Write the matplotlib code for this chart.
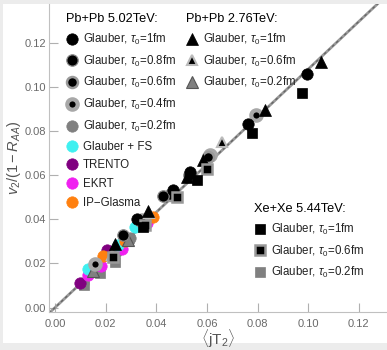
import matplotlib
matplotlib.use("Agg")
import matplotlib.pyplot as plt
from matplotlib.lines import Line2D
from matplotlib.patches import Rectangle
import numpy as np

plt.rcParams['font.family'] = ['Liberation Sans', 'DejaVu Sans']
plt.rcParams['mathtext.fontset'] = 'custom'
plt.rcParams['mathtext.rm'] = 'Liberation Sans'
plt.rcParams['mathtext.it'] = 'Liberation Sans:italic'
plt.rcParams['mathtext.bf'] = 'Liberation Sans:bold'

# ---------------- data ----------------
# Pb+Pb 5.02 TeV, Glauber with various tau0 (circles)
pb502_t10_x = [0.0322, 0.0467, 0.0533, 0.0762, 0.0994]
pb502_t10_y = [0.0400, 0.0532, 0.0615, 0.0831, 0.1057]
pb502_t08_x = [0.0270, 0.0428, 0.0530]
pb502_t08_y = [0.0328, 0.0506, 0.0600]
pb502_t06_x = [0.0338, 0.0454, 0.0605]
pb502_t06_y = [0.0392, 0.0510, 0.0680]
pb502_t04_x = [0.0158, 0.0345, 0.0612, 0.0795]
pb502_t04_y = [0.0196, 0.0395, 0.0690, 0.0872]
pb502_t02_x = [0.0110, 0.0170, 0.0240, 0.0295, 0.0334]
pb502_t02_y = [0.0112, 0.0180, 0.0250, 0.0315, 0.0387]
fs_x = [0.0132, 0.0250, 0.0316]
fs_y = [0.0174, 0.0283, 0.0366]
trento_x = [0.0099, 0.0165, 0.0207, 0.0340]
trento_y = [0.0110, 0.0193, 0.0260, 0.0375]
ekrt_x = [0.0129, 0.0180, 0.0263, 0.0362]
ekrt_y = [0.0147, 0.0190, 0.0265, 0.0381]
ipg_x = [0.0188, 0.0276, 0.0386]
ipg_y = [0.0235, 0.0300, 0.0411]

# Pb+Pb 2.76 TeV (triangles)
pb276_t10_x = [0.0237, 0.0368, 0.0520, 0.0584, 0.0829, 0.1050]
pb276_t10_y = [0.0290, 0.0437, 0.0592, 0.0668, 0.0894, 0.1113]
pb276_t06_x = [0.0224, 0.0372, 0.0658]
pb276_t06_y = [0.0238, 0.0430, 0.0751]
pb276_t02_x = [0.0150, 0.0290]
pb276_t02_y = [0.0165, 0.0305]

# Xe+Xe 5.44 TeV (squares)
xe_t10_x = [0.0349, 0.0560, 0.0777, 0.0974]
xe_t10_y = [0.0366, 0.0580, 0.0789, 0.0973]
xe_t06_x = [0.0230, 0.0355, 0.0480, 0.0599]
xe_t06_y = [0.0230, 0.0372, 0.0500, 0.0626]
xe_t02_x = [0.0116, 0.0178, 0.0235, 0.0292]
xe_t02_y = [0.0102, 0.0156, 0.0207, 0.0313]

fit_slope = 1.08

x_ticks = [0.00, 0.02, 0.04, 0.06, 0.08, 0.10, 0.12]
y_ticks = [0.00, 0.02, 0.04, 0.06, 0.08, 0.10, 0.12]

# ---------------- styles ----------------
GRAY = '#808080'
st = {
    'c10': dict(marker='o', mfc='black', mec='black', mew=0.5, ms=8.2),
    'c08': dict(marker='o', mfc='black', mec='#8a8a8a', mew=0.9, ms=8.2),
    'c06': dict(marker='o', mfc='black', mec='#9a9a9a', mew=1.8, ms=7.9),
    'c04': dict(marker='o', mfc='black', mec='#a8a8a8', mew=3.0, ms=7.5),
    'c02': dict(marker='o', mfc=GRAY, mec=GRAY, mew=0.5, ms=8.2),
    'fs': dict(marker='o', mfc='#3ff0f0', mec='#3ff0f0', mew=0.5, ms=8.2),
    'tr': dict(marker='o', mfc='#800080', mec='#800080', mew=0.5, ms=8.2),
    'ek': dict(marker='o', mfc='#f020f0', mec='#f020f0', mew=0.5, ms=8.2),
    'ip': dict(marker='o', mfc='#ff8010', mec='#ff8010', mew=0.5, ms=8.2),
    't10': dict(marker='^', mfc='black', mec='black', mew=0.5, ms=8.4),
    't06': dict(marker='^', mfc='black', mec='#bbbbbb', mew=1.5, ms=7.9),
    't02': dict(marker='^', mfc=GRAY, mec='#555555', mew=0.8, ms=8.4),
    's10': dict(marker='s', mfc='black', mec='black', mew=0.5, ms=7.2),
    's06': dict(marker='s', mfc='black', mec='#999999', mew=1.8, ms=6.9),
    's02': dict(marker='s', mfc=GRAY, mec=GRAY, mew=0.5, ms=7.2),
}

W, H = 387, 350
fig = plt.figure(figsize=(W / 100, H / 100), dpi=100, facecolor='#ececec')
fig.patches.append(Rectangle((3 / W, 7 / H), 1 - 3 / W, 1 - 4 / H - 7 / H,
                             transform=fig.transFigure, facecolor='white',
                             edgecolor='none', zorder=-10))
ax = fig.add_axes([49 / W, 38 / H, 1 - 49 / W, (312 - 4) / H])
ax.set_facecolor('white')

ax.set_xlim(-0.00237, 0.1311)
ax.set_ylim(-0.0020, 0.1375)

xx = np.array(ax.get_xlim())
ax.plot(xx, fit_slope * xx, color='#999999', lw=2.0, zorder=2, solid_capstyle='butt')
ax.plot(xx, fit_slope * xx, color='#666666', lw=1.0, ls=(0, (2, 2)), zorder=2)

def pts(x, y, key):
    ax.plot(x, y, ls='none', zorder=3, **st[key])

pts(pb502_t02_x, pb502_t02_y, 'c02')
pts(xe_t02_x, xe_t02_y, 's02')
pts(trento_x, trento_y, 'tr')
pts(ekrt_x, ekrt_y, 'ek')
pts(fs_x, fs_y, 'fs')
pts(ipg_x, ipg_y, 'ip')
pts(pb276_t02_x, pb276_t02_y, 't02')
pts(pb502_t04_x, pb502_t04_y, 'c04')
pts(pb502_t06_x, pb502_t06_y, 'c06')
pts(pb502_t08_x, pb502_t08_y, 'c08')
pts(pb502_t10_x, pb502_t10_y, 'c10')
pts(pb276_t06_x, pb276_t06_y, 't06')
pts(pb276_t10_x, pb276_t10_y, 't10')
pts(xe_t06_x, xe_t06_y, 's06')
pts(xe_t10_x, xe_t10_y, 's10')

# axes styling
for s in ['top', 'right']:
    ax.spines[s].set_visible(False)
for s in ['left', 'bottom']:
    ax.spines[s].set_color('#c0c0c0')
    ax.spines[s].set_linewidth(0.8)
ax.set_xticks(x_ticks)
ax.set_yticks(y_ticks)
ax.set_xticklabels([f'{v:.2f}' for v in x_ticks])
ax.set_yticklabels([f'{v:.2f}' for v in y_ticks])
ax.tick_params(axis='both', direction='in', length=6.5, width=0.8, color='#b0b0b0',
               labelcolor='#6a6a6a', labelsize=8)
ax.tick_params(axis='x', pad=5)
ax.tick_params(axis='y', pad=2)
ax.set_xlabel(r'$\langle\mathrm{jT}_2\rangle$', fontsize=11, color='#555555', labelpad=-1)
ax.set_ylabel(r'$v_2/(1-R_{AA})$', fontsize=10.5, color='#555555', labelpad=1)

tau = r'$\tau_0$'
def handle(key):
    return Line2D([], [], ls='none', **st[key])

leg_kw = dict(frameon=False, loc='upper left', fontsize=8.3, handlelength=1.0,
              handletextpad=0.45, labelspacing=0.58, borderpad=0, borderaxespad=0,
              title_fontsize=9.2, alignment='left', bbox_transform=fig.transFigure,
              labelcolor='#222222')

l1_keys = ['c10', 'c08', 'c06', 'c04', 'c02', 'fs', 'tr', 'ek', 'ip']
l1_labels = [f'Glauber, {tau}=1fm', f'Glauber, {tau}=0.8fm', f'Glauber, {tau}=0.6fm',
             f'Glauber, {tau}=0.4fm', f'Glauber, {tau}=0.2fm', 'Glauber + FS',
             'TRENTO', 'EKRT', 'IP\u2212Glasma']
leg1 = ax.legend([handle(k) for k in l1_keys], l1_labels, title='Pb+Pb 5.02TeV:',
                 bbox_to_anchor=(66 / W, 1 - 13 / H), **leg_kw)
ax.add_artist(leg1)

l2_keys = ['t10', 't06', 't02']
l2_labels = [f'Glauber, {tau}=1fm', f'Glauber, {tau}=0.6fm', f'Glauber, {tau}=0.2fm']
leg2 = ax.legend([handle(k) for k in l2_keys], l2_labels, title='Pb+Pb 2.76TeV:',
                 bbox_to_anchor=(186 / W, 1 - 13 / H), **leg_kw)
ax.add_artist(leg2)

l3_keys = ['s10', 's06', 's02']
l3_labels = [f'Glauber, {tau}=1fm', f'Glauber, {tau}=0.6fm', f'Glauber, {tau}=0.2fm']
leg3 = ax.legend([handle(k) for k in l3_keys], l3_labels, title='Xe+Xe 5.44TeV:',
                 bbox_to_anchor=(254 / W, 1 - 203 / H), **leg_kw)

fig.savefig('out.png', dpi=100, facecolor=fig.get_facecolor())
